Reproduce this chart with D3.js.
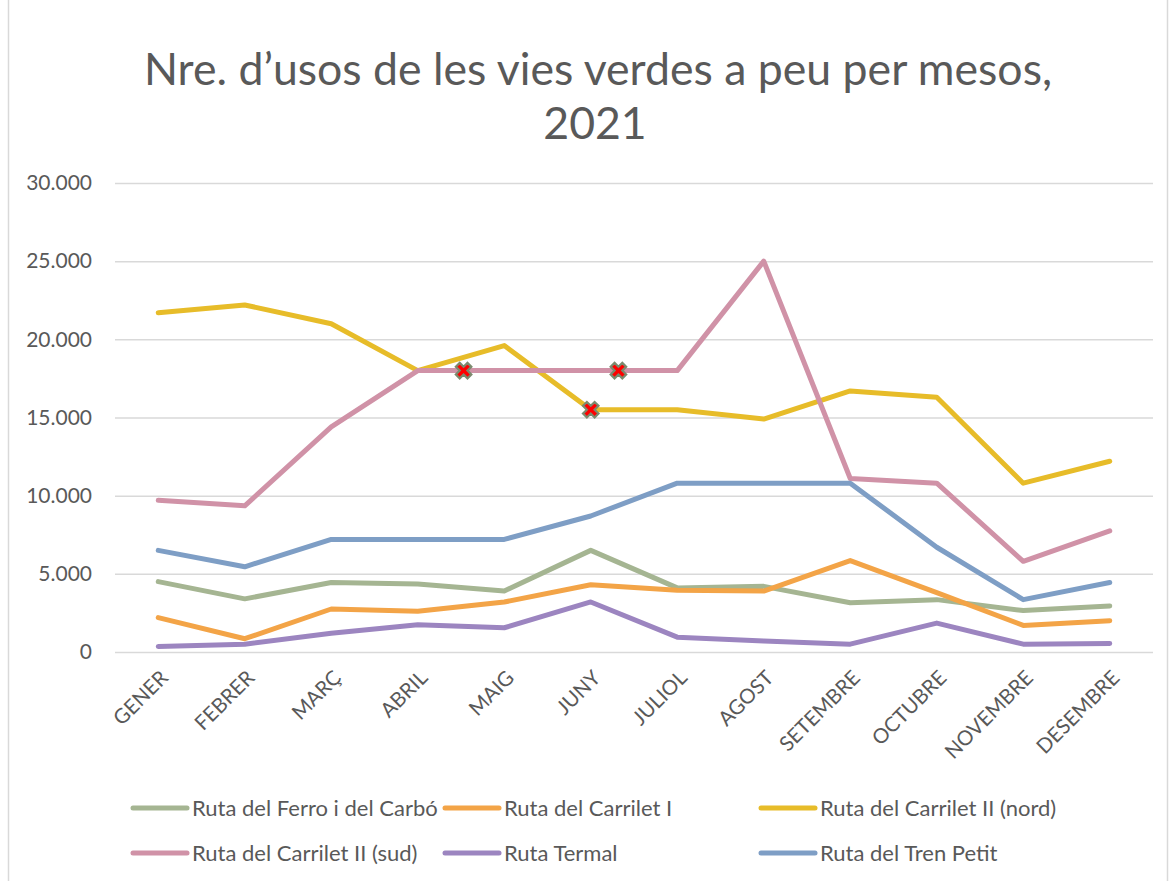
<!DOCTYPE html>
<html>
<head>
<meta charset="utf-8">
<script src="https://cdn.jsdelivr.net/npm/d3@7"></script>
<style>
  body { margin: 0; background: #fff; }
  text { font-family: Lato, "Open Sans", sans-serif; fill: #595959; }
</style>
</head>
<body>
<div id="chart"></div>
<script>
// Month categories
const months = ['GENER', 'FEBRER', 'MARÇ', 'ABRIL', 'MAIG', 'JUNY', 'JULIOL', 'AGOST', 'SETEMBRE', 'OCTUBRE', 'NOVEMBRE', 'DESEMBRE'];

// Series values
const ferroCarbo   = [4500, 3400, 4450, 4350, 3900, 6500, 4100, 4200, 3150, 3350, 2650, 2950];
const carriletI    = [2200, 850, 2750, 2600, 3200, 4300, 3950, 3900, 5850, 3800, 1700, 2000];
const carriletNord = [21700, 22200, 21000, 18000, 19600, 15500, 15500, 14900, 16700, 16300, 10800, 12200];
const carriletSud  = [9700, 9350, 14400, 18000, 18000, 18000, 18000, 25000, 11100, 10800, 5800, 7750];
const termal       = [350, 500, 1200, 1750, 1550, 3200, 950, 700, 500, 1850, 500, 550];
const trenPetit    = [6500, 5450, 7200, 7200, 7200, 8700, 10800, 10800, 10800, 6700, 3350, 4450];

const seriesNames = ['Ruta del Ferro i del Carbó', 'Ruta del Carrilet I', 'Ruta del Carrilet II (nord)',
                     'Ruta del Carrilet II (sud)', 'Ruta Termal', 'Ruta del Tren Petit'];
const seriesColors = ['#a5b592', '#f3a447', '#e7bc29', '#d092a7', '#9c85c0', '#7e9ec5'];
const seriesValues = [ferroCarbo, carriletI, carriletNord, carriletSud, termal, trenPetit];

// Cross markers: position as fractional month index and value
const markerIndex = [3.53, 5.32, 5];
const markerValue = [18000, 18000, 15500];

const yTicks = [0, 5000, 10000, 15000, 20000, 25000, 30000];

const W = 1170, H = 881;
const svg = d3.select('#chart').append('svg')
  .attr('width', W).attr('height', H);

// Outer chart border
svg.append('rect')
  .attr('x', 8.5).attr('y', -2).attr('width', 1159).attr('height', H + 4)
  .attr('fill', 'none').attr('stroke', '#d9d9d9').attr('stroke-width', 1.5);

// Scales
const x = d3.scaleBand().domain(months).range([115, 1153]);
const cx = d => x(d) + x.bandwidth() / 2;
const xi = d3.scaleLinear().domain([0, months.length - 1]).range([cx(months[0]), cx(months[months.length - 1])]);
const y = d3.scaleLinear().domain([0, 30000]).range([652, 183]);

const locale = d3.formatLocale({ decimal: ',', thousands: '.', grouping: [3], currency: ['', '€'] });

// Title
svg.append('text')
  .attr('x', 598).attr('y', 85)
  .attr('text-anchor', 'middle')
  .style('font-size', '44.6px').style('font-weight', 400)
  .text('Nre. d’usos de les vies verdes a peu per mesos,');
svg.append('text')
  .attr('x', 595).attr('y', 139)
  .attr('text-anchor', 'middle')
  .style('font-size', '44.6px').style('font-weight', 400)
  .text('2021');

// Y axis with gridlines
const yAxis = svg.append('g')
  .attr('transform', 'translate(115,0)')
  .call(d3.axisLeft(y).tickValues(yTicks).tickFormat(locale.format(',d'))
    .tickSize(-(1153 - 115)).tickPadding(23));
yAxis.select('.domain').remove();
yAxis.selectAll('line').attr('stroke', '#d9d9d9').attr('stroke-width', 1.5);
yAxis.selectAll('text').style('font-size', '21px').style('font-family', 'Lato, sans-serif').attr('fill', '#595959');

// X axis labels
const xAxis = svg.append('g')
  .attr('transform', 'translate(0,652)')
  .call(d3.axisBottom(x).tickSize(0));
xAxis.select('.domain').remove();
xAxis.selectAll('text')
  .attr('x', 0).attr('y', 0).attr('dy', '0.35em')
  .attr('text-anchor', 'end')
  .attr('transform', 'translate(6,22) rotate(-45)')
  .style('font-size', '20.5px').style('font-family', 'Lato, sans-serif').attr('fill', '#595959');

// Lines
const line = d3.line()
  .x((d, i) => cx(months[i]))
  .y(d => y(d));

svg.append('g').selectAll('path')
  .data(seriesValues)
  .enter()
  .append('path')
  .attr('d', line)
  .attr('fill', 'none')
  .attr('stroke', (d, i) => seriesColors[i])
  .attr('stroke-width', 5)
  .attr('stroke-linecap', 'round')
  .attr('stroke-linejoin', 'round');

// Cross markers
const cross = d3.symbol().type(d3.symbolCross).size(150);
svg.append('g').selectAll('path')
  .data(markerIndex)
  .enter()
  .append('path')
  .attr('d', cross)
  .attr('transform', (d, i) => `translate(${xi(d)},${y(markerValue[i])}) rotate(45)`)
  .attr('fill', '#ff0000')
  .attr('stroke', '#7b8a6e')
  .attr('stroke-width', 2.2);

// Legend
const legendCols = [133, 445, 761];
const legendRows = [808, 853];
const legend = svg.append('g').selectAll('g')
  .data(seriesNames)
  .enter()
  .append('g')
  .attr('transform', (d, i) => `translate(${legendCols[i % 3]},${legendRows[Math.floor(i / 3)]})`);
legend.append('line')
  .attr('x1', 0).attr('x2', 54).attr('y1', 0).attr('y2', 0)
  .attr('stroke', (d, i) => seriesColors[i])
  .attr('stroke-width', 5)
  .attr('stroke-linecap', 'round');
legend.append('text')
  .attr('x', 59).attr('y', 0).attr('dy', '0.35em')
  .style('font-size', '22px')
  .text(d => d);
</script>
</body>
</html>
